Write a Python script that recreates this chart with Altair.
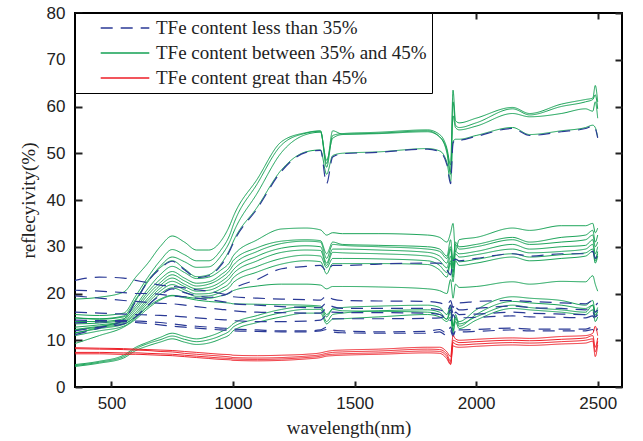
import altair as alt
import pandas as pd

# ---------------- data ----------------
WAVELENGTH = [350, 450, 550, 600, 650, 700, 750, 800, 850, 900, 950, 990,
              1000, 1100, 1200, 1300, 1360, 1385, 1410, 1450, 1600, 1800, 1850, 1880,
              1895, 1905, 1915, 1930, 2000, 2150, 2220, 2350, 2450, 2480, 2490, 2500]

LABEL_LOW = "TFe content less than 35%"
LABEL_MID = "TFe content between 35% and 45%"
LABEL_HIGH = "TFe content great than 45%"
LABELS = [LABEL_LOW, LABEL_MID, LABEL_HIGH]

# green curves (35% - 45%)
H1 = [18.8, 19.2, 20.3, 23.5, 26.5, 30.0, 32.3, 31.0, 29.3, 29.3, 31.2, 35.0,
      36.3, 44.5, 52.5, 54.4, 54.8, 47.0, 53.8, 54.2, 54.5, 55.0, 54.0, 51.0,
      47.5, 63.5, 57.0, 56.5, 57.5, 59.8, 58.5, 60.5, 61.5, 61.8, 64.5, 61.0]
H2 = [15.5, 15.3, 15.8, 19.5, 23.5, 27.0, 29.4, 28.3, 27.0, 27.0, 29.3, 33.0,
      34.5, 43.5, 51.8, 54.3, 54.7, 47.8, 54.8, 54.1, 54.3, 54.8, 53.5, 50.0,
      45.5, 61.0, 56.0, 55.5, 56.5, 59.5, 58.2, 60.0, 61.0, 61.5, 62.5, 59.5]
H3 = [14.8, 14.6, 15.2, 18.8, 22.5, 25.8, 27.8, 26.8, 25.6, 25.7, 28.0, 31.5,
      32.8, 41.5, 50.2, 54.0, 54.5, 48.5, 53.2, 54.0, 54.2, 54.6, 53.5, 50.5,
      46.0, 58.0, 55.5, 55.0, 55.8, 58.5, 57.8, 58.5, 59.5, 59.0, 61.0, 57.5]
H4 = [11.5, 12.8, 14.5, 18.5, 22.8, 25.5, 27.0, 25.3, 23.6, 24.0, 26.3, 29.8,
      31.0, 38.5, 46.5, 50.3, 50.7, 45.5, 49.5, 50.0, 50.3, 51.0, 50.5, 48.0,
      44.0, 52.5, 53.0, 53.0, 53.8, 55.5, 54.0, 54.8, 55.5, 56.0, 55.5, 53.5]
M1 = [14.8, 14.5, 15.0, 17.5, 21.0, 24.0, 25.8, 24.5, 23.2, 23.5, 25.0, 27.0,
      28.0, 31.5, 33.8, 34.0, 33.6, 32.5, 33.0, 32.8, 32.8, 32.5, 32.0, 31.0,
      33.0, 35.0, 29.0, 31.5, 32.0, 34.0, 33.5, 34.5, 34.5, 35.0, 33.0, 34.0]
M2 = [14.0, 14.0, 14.6, 17.0, 20.3, 23.0, 24.7, 23.3, 22.2, 22.5, 24.0, 26.0,
      27.0, 29.8, 31.2, 31.5, 31.3, 28.5, 31.0, 30.5, 30.3, 30.0, 29.5, 28.0,
      31.5, 27.0, 31.0, 30.0, 30.5, 32.0, 31.0, 32.0, 32.5, 33.5, 31.0, 32.5]
M3 = [13.5, 13.7, 14.3, 16.5, 19.7, 22.3, 24.0, 22.7, 21.6, 22.0, 23.3, 25.2,
      26.0, 29.0, 30.7, 31.2, 31.0, 27.5, 30.5, 30.3, 30.0, 29.5, 29.0, 27.5,
      30.0, 26.0, 30.5, 29.5, 30.0, 31.5, 30.5, 31.0, 31.5, 32.5, 30.0, 31.0]
M4 = [12.8, 13.3, 14.0, 16.0, 19.0, 21.7, 23.3, 22.0, 21.0, 21.3, 22.5, 24.3,
      25.0, 28.0, 29.7, 30.2, 30.0, 26.5, 29.5, 29.5, 29.3, 28.8, 28.0, 26.5,
      29.5, 25.5, 29.0, 28.5, 29.0, 30.5, 29.5, 30.0, 30.3, 31.5, 28.5, 30.0]
M5 = [12.3, 13.0, 13.8, 15.6, 18.5, 21.1, 22.6, 21.5, 20.5, 20.7, 21.8, 23.5,
      24.2, 27.0, 28.8, 29.3, 29.2, 26.0, 28.8, 28.7, 28.5, 28.0, 27.0, 25.5,
      28.0, 24.5, 28.5, 27.8, 28.3, 29.5, 28.7, 29.0, 29.5, 30.5, 27.5, 29.0]
M6 = [11.6, 12.5, 13.4, 15.2, 18.0, 20.5, 21.9, 20.8, 19.9, 20.0, 21.0, 22.5,
      23.3, 25.8, 27.5, 28.2, 28.0, 25.5, 27.5, 27.5, 27.4, 27.0, 26.0, 24.5,
      27.0, 23.5, 27.5, 26.8, 27.3, 28.5, 27.8, 28.3, 28.7, 29.5, 27.0, 28.5]
M7 = [11.0, 12.0, 13.0, 14.8, 17.4, 19.9, 21.2, 20.3, 19.4, 19.5, 20.3, 21.6,
      22.3, 24.6, 26.3, 27.0, 26.8, 24.2, 26.4, 26.4, 26.4, 26.2, 25.0, 23.5,
      26.5, 22.5, 27.0, 26.0, 26.5, 27.8, 27.0, 27.5, 28.0, 29.0, 26.5, 28.0]
G22 = [12.2, 12.8, 13.5, 15.0, 17.2, 18.8, 19.6, 19.3, 19.0, 19.0, 19.5, 20.2,
       20.6, 21.6, 22.0, 22.0, 21.8, 21.0, 21.5, 21.5, 21.4, 21.0, 20.6, 20.0,
       23.0, 19.0, 22.0, 21.3, 21.5, 22.5, 22.0, 22.6, 22.5, 23.8, 22.0, 20.5]
G18 = [9.3, 11.0, 12.8, 14.5, 16.8, 18.6, 19.5, 19.1, 18.6, 18.3, 18.1, 17.9,
       17.8, 17.7, 17.6, 17.5, 17.3, 15.5, 16.6, 16.3, 16.2, 16.0, 15.5, 14.5,
       17.0, 13.0, 15.5, 13.5, 15.0, 17.5, 17.0, 16.5, 16.0, 17.5, 15.5, 16.0]
L1 = [4.8, 5.5, 6.8, 8.5, 9.6, 10.6, 11.5, 10.8, 10.3, 10.8, 11.8, 13.0,
      13.5, 15.3, 16.6, 17.2, 17.0, 15.0, 16.8, 17.0, 17.3, 17.5, 17.0, 15.5,
      17.5, 13.0, 14.5, 14.0, 16.5, 19.3, 19.0, 18.5, 17.5, 18.5, 16.0, 17.0]
L2 = [4.6, 5.3, 6.5, 8.2, 9.3, 10.1, 10.9, 10.2, 9.7, 10.1, 11.0, 12.2,
      12.8, 14.6, 15.9, 16.6, 16.6, 14.0, 15.5, 15.8, 16.3, 16.5, 16.0, 14.5,
      16.0, 12.0, 15.0, 13.0, 15.5, 18.3, 18.0, 17.5, 16.8, 17.5, 15.0, 16.5]
L3 = [4.4, 5.1, 6.2, 7.8, 8.8, 9.6, 10.3, 9.6, 9.1, 9.4, 10.3, 11.4,
      12.0, 13.8, 15.0, 15.8, 15.8, 13.5, 14.5, 14.6, 15.0, 15.5, 15.0, 14.0,
      15.0, 11.5, 14.0, 12.5, 14.3, 16.8, 16.5, 16.0, 15.5, 16.5, 14.0, 15.0]

# blue dashed curves (< 35%)
B1 = [11.2, 12.6, 14.3, 18.3, 22.6, 25.3, 26.9, 25.1, 23.4, 23.8, 26.0, 29.5,
      30.7, 38.2, 46.2, 50.2, 50.6, 43.5, 49.2, 49.9, 50.2, 50.9, 50.3, 47.5,
      43.5, 52.2, 52.8, 52.8, 53.6, 55.3, 53.8, 54.6, 55.3, 55.8, 55.3, 53.3]
B2 = [22.8, 23.5, 23.3, 22.8, 22.3, 21.8, 21.5, 21.2, 20.8, 20.5, 20.0, 19.5,
      19.3, 19.0, 18.8, 18.7, 18.6, 19.5, 18.8, 18.5, 18.4, 18.3, 18.0, 17.5,
      18.5, 17.0, 18.0, 18.0, 18.3, 18.5, 18.3, 18.0, 17.8, 18.5, 17.5, 18.0]
B3 = [20.7, 20.5, 20.2, 20.0, 20.0, 19.8, 19.5, 19.3, 19.0, 18.7, 18.3, 18.0,
      17.8, 17.5, 17.2, 17.0, 17.0, 18.0, 17.2, 16.8, 16.8, 16.8, 16.5, 16.0,
      17.5, 15.8, 17.0, 16.5, 16.8, 17.3, 17.0, 16.8, 16.5, 17.0, 16.0, 16.5]
B4 = [19.5, 19.0, 18.5, 18.3, 18.1, 17.9, 17.8, 17.5, 17.2, 16.9, 16.6, 16.4,
      16.3, 16.0, 15.9, 15.8, 15.8, 16.8, 16.0, 15.9, 15.9, 15.8, 15.5, 15.0,
      16.5, 14.5, 16.0, 15.5, 15.6, 16.0, 15.8, 15.6, 15.5, 16.0, 15.0, 15.5]
B5 = [16.0, 15.8, 15.6, 15.5, 15.4, 15.3, 15.2, 15.0, 14.8, 14.6, 14.4, 14.3,
      14.2, 14.0, 14.0, 14.1, 14.3, 15.3, 14.6, 14.6, 14.6, 14.7, 14.8, 15.2,
      14.2, 15.5, 14.8, 14.8, 14.9, 15.2, 15.0, 14.9, 14.8, 15.2, 14.3, 14.8]
B6 = [14.3, 14.2, 14.2, 14.1, 14.0, 13.8, 13.5, 13.2, 13.0, 12.8, 12.6, 12.5,
      12.4, 12.2, 12.0, 12.0, 12.2, 12.8, 12.2, 12.0, 11.8, 11.9, 12.3, 11.5,
      12.8, 11.2, 12.5, 12.2, 12.3, 12.6, 12.4, 12.4, 12.4, 12.8, 12.0, 12.5]
B7 = [13.7, 13.9, 14.0, 13.8, 13.6, 13.3, 13.0, 12.8, 12.6, 12.4, 12.2, 12.1,
      12.0, 11.9, 11.8, 11.8, 12.0, 12.3, 11.8, 11.6, 11.5, 11.5, 11.8, 11.0,
      12.0, 10.8, 12.0, 11.8, 11.9, 12.2, 12.0, 12.0, 12.0, 12.3, 11.5, 12.0]
B8 = [12.0, 12.8, 13.5, 15.0, 17.5, 19.6, 21.0, 20.2, 19.5, 19.2, 19.5, 20.3,
      20.8, 23.0, 25.3, 25.8, 26.0, 24.8, 26.0, 26.0, 26.3, 26.5, 26.5, 25.0,
      24.0, 27.0, 27.3, 27.0, 27.5, 28.5, 28.0, 28.5, 28.5, 29.0, 27.5, 28.5]

# red curves (> 45%)
R1 = [8.4, 8.3, 8.2, 8.1, 8.0, 7.9, 7.8, 7.6, 7.4, 7.2, 7.0, 6.9,
      6.8, 6.7, 6.8, 7.0, 7.3, 7.6, 7.8, 7.9, 8.1, 8.5, 8.5, 7.5,
      6.5, 11.0, 10.3, 10.0, 10.2, 10.5, 10.4, 10.8, 11.0, 11.5, 13.0, 11.0]
R2 = [8.2, 8.1, 8.0, 7.9, 7.8, 7.6, 7.5, 7.2, 7.0, 6.8, 6.6, 6.4,
      6.3, 6.2, 6.3, 6.6, 6.9, 7.2, 7.4, 7.5, 7.7, 8.1, 8.0, 7.0,
      5.5, 10.0, 9.8, 9.5, 9.7, 10.0, 9.9, 10.2, 10.5, 11.0, 8.5, 10.5]
R3 = [7.4, 7.4, 7.3, 7.3, 7.2, 7.1, 7.0, 6.8, 6.6, 6.4, 6.2, 6.1,
      6.0, 5.9, 6.0, 6.3, 6.6, 6.9, 7.0, 7.1, 7.3, 7.7, 7.6, 6.5,
      5.0, 9.5, 9.2, 9.0, 9.2, 9.5, 9.4, 9.7, 10.0, 10.3, 7.5, 9.8]
R4 = [7.1, 7.1, 7.0, 7.0, 6.9, 6.8, 6.7, 6.5, 6.3, 6.1, 5.9, 5.8,
      5.7, 5.6, 5.7, 6.0, 6.3, 6.6, 6.7, 6.8, 7.0, 7.3, 7.2, 6.0,
      4.8, 8.8, 8.6, 8.5, 8.7, 9.0, 8.9, 9.2, 9.4, 9.8, 6.5, 9.0]

GREEN_CURVES = {"H1": H1, "H2": H2, "H3": H3, "H4": H4, "M1": M1, "M2": M2,
                "M3": M3, "M4": M4, "M5": M5, "M6": M6, "M7": M7, "G22": G22,
                "G18": G18, "L1": L1, "L2": L2, "L3": L3}
BLUE_CURVES = {"B1": B1, "B2": B2, "B3": B3, "B4": B4, "B5": B5, "B6": B6,
               "B7": B7, "B8": B8}
RED_CURVES = {"R1": R1, "R2": R2, "R3": R3, "R4": R4}

rows = []
for group, curves in [(LABEL_LOW, BLUE_CURVES), (LABEL_MID, GREEN_CURVES),
                      (LABEL_HIGH, RED_CURVES)]:
    for name, vals in curves.items():
        assert len(vals) == len(WAVELENGTH), name
        for w, v in zip(WAVELENGTH, vals):
            rows.append({"wl": w, "r": v, "group": group, "curve": name})
df = pd.DataFrame(rows)

# ---------------- style ----------------
BLUE = "#2b3a96"
GREEN = "#12a052"
RED = "#ee1c25"
SANS = "Liberation Sans"
SERIF = "Liberation Serif"
INK = "#222222"
NB = "\u00a0"

x_scale = alt.Scale(domain=[350, 2600], nice=False, zero=False)
y_scale = alt.Scale(domain=[0, 80], nice=False, zero=True)
color_scale = alt.Scale(domain=LABELS, range=[BLUE, GREEN, RED])
dash_scale = alt.Scale(domain=LABELS, range=[[12, 8], [1, 0], [1, 0]])

legend = alt.Legend(
    title=None, orient="none", legendX=0, legendY=0,
    fillColor="white", strokeColor="black", padding=5,
    symbolType="M-2.7,0H2.7", symbolSize=324, symbolStrokeWidth=1.5,
    symbolOffset=35, labelOffset=21, rowPadding=5,
    labelFont=SERIF, labelFontSize=19, labelColor=INK, labelLimit=500,
    labelExpr="datum.label + '" + NB * 9 + "'",
)

X_TICKS = [500, 1000, 1500, 2000, 2500]
Y_TICKS = [0, 10, 20, 30, 40, 50, 60, 70, 80]

x_bottom = alt.Axis(
    orient="bottom", values=X_TICKS, format="d", domain=False, grid=False,
    ticks=True, tickSize=6, tickWidth=2, tickColor=INK, offset=-6,
    labelFont=SANS, labelFontSize=17, labelColor=INK, labelPadding=8,
    labelFlush=False, title="wavelength(nm)", titleFont=SERIF,
    titleFontSize=19, titleFontWeight="normal", titleColor=INK, titlePadding=7,
)
y_left = alt.Axis(
    orient="left", values=Y_TICKS, format="d", domain=False, grid=False,
    ticks=True, tickSize=7, tickWidth=2, tickColor=INK, offset=-7,
    labelFont=SANS, labelFontSize=17, labelColor=INK, labelPadding=10,
    labelFlush=False, title="reflecyivity(%)", titleFont=SERIF,
    titleFontSize=19, titleFontWeight="normal", titleColor=INK, titlePadding=8,
)
x_top = alt.Axis(
    orient="top", values=X_TICKS, domain=False, grid=False, labels=False,
    ticks=True, tickSize=6, tickWidth=2, tickColor=INK, offset=-6, title=None,
)
y_right = alt.Axis(
    orient="right", values=Y_TICKS, domain=False, grid=False, labels=False,
    ticks=True, tickSize=7, tickWidth=2, tickColor=INK, offset=-7, title=None,
)


def layer(group, width, x_axis, y_axis):
    return alt.Chart(df).transform_filter(
        alt.datum.group == group
    ).mark_line(strokeWidth=width, interpolate="monotone").encode(
        x=alt.X("wl:Q", scale=x_scale, axis=x_axis),
        y=alt.Y("r:Q", scale=y_scale, axis=y_axis),
        color=alt.Color("group:N", scale=color_scale, legend=legend),
        strokeDash=alt.StrokeDash("group:N", scale=dash_scale, legend=legend),
        detail="curve:N",
    )


green_layer = layer(LABEL_MID, 1.0, x_bottom, y_left)
blue_layer = layer(LABEL_LOW, 1.2, None, None)
red_layer = layer(LABEL_HIGH, 1.0, x_top, y_right)

chart = alt.layer(green_layer, blue_layer, red_layer).resolve_axis(
    x="independent", y="independent"
).properties(
    width=547, height=374,
    padding={"left": 75, "top": 13, "right": 21, "bottom": 54},
    autosize=alt.AutoSizeParams(type="none"),
    background="white",
).configure_view(
    stroke="black", strokeWidth=2
)

chart.save("out.html", embed_options={"renderer": "svg", "actions": False})
